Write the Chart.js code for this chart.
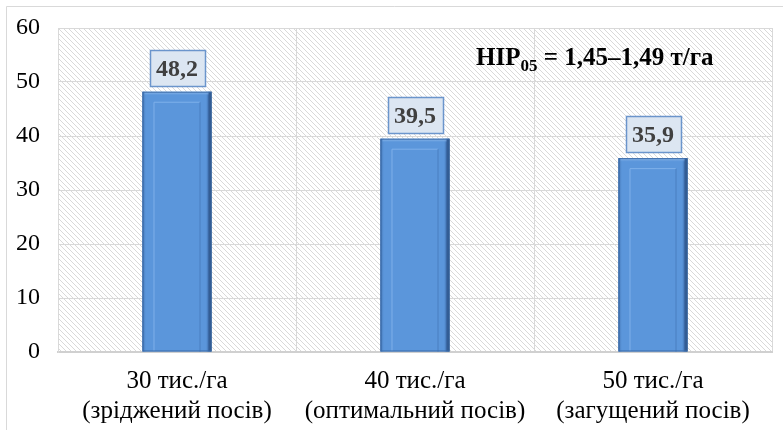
<!DOCTYPE html>
<html>
<head>
<meta charset="utf-8">
<script src="https://cdn.jsdelivr.net/npm/chart.js@4"></script>
<style>
html,body{margin:0;padding:0;background:#fff;}
#wrap{position:relative;width:783px;height:430px;}
</style>
</head>
<body>
<div id="wrap"><canvas id="c" width="783" height="430"></canvas></div>
<script>
const categories = [
  ['30 тис./га', '(зріджений посів)'],
  ['40 тис./га', '(оптимальний посів)'],
  ['50 тис./га', '(загущений посів)']
];
const yields = [48.2, 39.5, 35.9];
const yMin = 0, yMax = 60, yStep = 10;
const noteMain = 'НІР';
const noteSub = '05';
const noteRest = ' = 1,45–1,49 т/га';

const SERIF = '"Liberation Serif", "Times New Roman", serif';

function makeHatch() {
  const s = 5;
  const c = document.createElement('canvas');
  c.width = s; c.height = s;
  const g = c.getContext('2d');
  g.fillStyle = '#ffffff';
  g.fillRect(0, 0, s, s);
  g.fillStyle = '#d9d9d9';
  for (let i = 0; i < s; i++) g.fillRect(i, i, 1, 1);
  return c;
}

const framePlugin = {
  id: 'frame',
  beforeDraw(chart) {
    const ctx = chart.ctx, a = chart.chartArea;
    ctx.save();
    ctx.fillStyle = '#ffffff';
    ctx.fillRect(0, 0, chart.width, chart.height);
    ctx.strokeStyle = '#d9d9d9';
    ctx.lineWidth = 1;
    ctx.beginPath();
    ctx.moveTo(6.5, chart.height);
    ctx.lineTo(6.5, 6.5);
    ctx.lineTo(chart.width, 6.5);
    ctx.stroke();
    ctx.fillStyle = ctx.createPattern(makeHatch(), 'repeat');
    ctx.fillRect(a.left, a.top, a.right - a.left, a.bottom - a.top);
    ctx.restore();
  }
};

const barDecor = {
  id: 'barDecor',
  afterDatasetsDraw(chart) {
    const ctx = chart.ctx;
    const meta = chart.getDatasetMeta(0);
    const ys = chart.scales.y;
    ctx.save();
    meta.data.forEach((bar, i) => {
      const p = bar.getProps(['x', 'y', 'base', 'width'], true);
      const l = p.x - p.width / 2, r = p.x + p.width / 2, t = p.y, b = p.base;
      let g = ctx.createLinearGradient(l, 0, l + 4, 0);
      g.addColorStop(0, '#3a67a3');
      g.addColorStop(1, 'rgba(91,150,219,0)');
      ctx.fillStyle = g; ctx.fillRect(l, t, 4, b - t);
      g = ctx.createLinearGradient(r - 6, 0, r, 0);
      g.addColorStop(0, 'rgba(91,150,219,0)');
      g.addColorStop(0.5, '#3b69a6');
      g.addColorStop(1, '#24446f');
      ctx.fillStyle = g; ctx.fillRect(r - 6, t, 6, b - t);
      g = ctx.createLinearGradient(0, t, 0, t + 4);
      g.addColorStop(0, '#a9cbf2');
      g.addColorStop(1, 'rgba(91,150,219,0)');
      ctx.fillStyle = g; ctx.fillRect(l + 2, t, r - l - 5, 4);
      const inset = 11;
      ctx.lineWidth = 1;
      ctx.strokeStyle = '#7fb0ea';
      ctx.beginPath();
      ctx.moveTo(l + inset + 0.5, b);
      ctx.lineTo(l + inset + 0.5, t + inset - 0.5);
      ctx.lineTo(r - inset - 0.5, t + inset - 0.5);
      ctx.stroke();
      ctx.strokeStyle = '#4a7fc0';
      ctx.beginPath();
      ctx.moveTo(r - inset - 0.5, t + inset - 0.5);
      ctx.lineTo(r - inset - 0.5, b);
      ctx.stroke();
      ctx.strokeStyle = '#3a6aa8';
      ctx.strokeRect(l + 0.5, t + 0.5, r - l - 1, b - t - 1);

      const txt = yields[i].toFixed(1).replace('.', ',');
      ctx.font = 'bold 24px ' + SERIF;
      const tw = ctx.measureText(txt).width;
      const bw = tw + 13, bh = 36;
      const bx = Math.round(p.x - bw / 2) + 0.5, by = Math.round(t - 6 - bh) + 0.5;
      ctx.fillStyle = '#dce6f2';
      ctx.fillRect(bx, by, bw, bh);
      ctx.strokeStyle = '#6b95cc';
      ctx.lineWidth = 1.5;
      ctx.strokeRect(bx, by, bw, bh);
      ctx.fillStyle = '#404040';
      ctx.textAlign = 'center';
      ctx.textBaseline = 'middle';
      ctx.fillText(txt, p.x, by + bh / 2 + 1);
    });

    const a = chart.chartArea;
    let x = a.right - 296;
    const base = ys.getPixelForValue(53.2);
    ctx.fillStyle = '#000000';
    ctx.textAlign = 'left';
    ctx.textBaseline = 'alphabetic';
    ctx.font = 'bold 25px ' + SERIF;
    ctx.fillText(noteMain, x, base);
    x += ctx.measureText(noteMain).width;
    ctx.font = 'bold 17px ' + SERIF;
    ctx.fillText(noteSub, x, base + 6);
    x += ctx.measureText(noteSub).width;
    ctx.font = 'bold 25px ' + SERIF;
    ctx.fillText(noteRest, x, base);
    ctx.restore();
  }
};

new Chart(document.getElementById('c'), {
  type: 'bar',
  data: {
    labels: categories,
    datasets: [{
      data: yields,
      backgroundColor: '#5b96db',
      borderWidth: 0,
      barPercentage: 0.29,
      categoryPercentage: 1
    }]
  },
  options: {
    responsive: false,
    animation: false,
    events: [],
    layout: { padding: { top: 28, right: 11, left: 0, bottom: 0 } },
    plugins: { legend: { display: false }, tooltip: { enabled: false } },
    scales: {
      x: {
        grid: { color: '#d9d9d9', drawTicks: false, offset: true },
        border: { color: '#d0d0d0', width: 2 },
        ticks: {
          color: '#000000',
          font: { family: SERIF, size: 25, lineHeight: 1.2 },
          padding: 14,
          maxRotation: 0
        },
        afterFit(scale) { scale.height = 78; scale.paddingLeft = 0; scale.paddingRight = 0; }
      },
      y: {
        min: yMin, max: yMax,
        grid: { color: '#d9d9d9', drawTicks: false },
        border: { color: '#d9d9d9' },
        ticks: {
          stepSize: yStep,
          color: '#000000',
          font: { family: SERIF, size: 24 },
          padding: 18
        },
        afterFit(scale) { scale.width = 58; scale.paddingTop = 0; scale.paddingBottom = 0; }
      }
    }
  },
  plugins: [framePlugin, barDecor]
});
</script>
</body>
</html>
